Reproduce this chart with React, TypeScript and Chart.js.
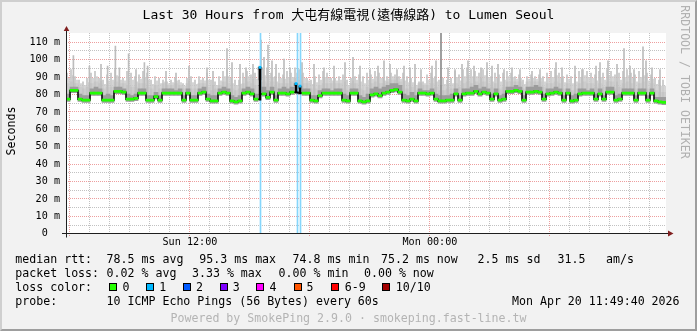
import React, { useEffect, useRef } from 'react';
import { Chart, registerables } from 'chart.js';
Chart.register(...registerables);

// ---- time axis: 30 hours ending Mon 11:49:40, start Sun 05:49:40 ----
const START_TO_FIRST_HOUR = 10 / 60 + 20 / 3600; // 05:49:40 -> 06:00:00
const FIRST_HOUR_OF_DAY = 6; // hours since Sun 00:00 at first full hour
const HOURS = 30;
const BIN_H = 0.2; // 12-minute bins
const xTickLabels: Record<number, string> = { 12: 'Sun 12:00', 24: 'Mon 00:00' };
const yTickValues = [0, 10, 20, 30, 40, 50, 60, 70, 80, 90, 100, 110];
const Y_MAX = 115;

// ---- median rtt per 12-minute bin (ms) ----
const median = [
  77, 82, 82, 77, 76.5, 76.5, 80.5, 80.5, 80.5, 76.5, 76.5, 76.5, 81.5, 81.5, 81, 77, 77, 77.5, 80.5, 80.5, 76.5, 76.5, 78.5, 76.5, 80.5, 80.5, 80.5, 80.5, 80.5, 76.5,
  80.5, 76.5, 76.5, 80.5, 81, 77, 76, 76, 80.5, 81, 80.5, 76, 75.5, 76, 80.5, 81, 80, 77, 95.3, 80, 78, 81, 76.5, 80.5, 80.5, 80, 81, 86, 84.5, 80.5,
  80.5, 76.5, 76, 79, 80.5, 80.5, 80.5, 80.5, 80.5, 76.5, 76, 80.5, 80.5, 76, 75.5, 76, 79.5, 80, 79, 80.5, 81, 82, 82.5, 81, 76.5, 76, 77, 76, 80.5, 80.5,
  80, 80.5, 77, 76, 76, 76.5, 76.5, 80, 76.5, 80, 80.5, 80.5, 81.5, 80, 81, 80.5, 77, 80, 76.5, 77, 81.5, 81.5, 82, 81.5, 76.5, 81, 81, 81.5, 81, 77,
  80, 80.5, 81, 80.5, 76.5, 80.5, 76, 76.5, 80, 80.5, 80.5, 80.5, 77, 80, 77, 81, 81, 76.5, 77, 80.5, 80.5, 80.5, 76.5, 80.5, 80.5, 76.5, 80.5, 76, 75.5, 75.2,
];

// ---- smoke: dense light band top, per-bin max ping, darker inner smoke top ----
const bandTop = [
  86, 87, 86, 84, 83, 84, 86, 87, 86, 83, 84, 84, 87, 86, 86, 85, 84, 84, 86, 86, 84, 83, 85, 83, 86, 85, 85, 86, 85, 83,
  86, 83, 83, 86, 86, 84, 82, 83, 85, 87, 86, 83, 82, 83, 86, 87, 86, 85, 88, 87, 86, 87, 84, 86, 86, 86, 87, 89, 88, 86,
  86, 83, 83, 85, 86, 86, 86, 86, 86, 83, 82, 86, 86, 83, 82, 84, 86, 87, 86, 86, 87, 88, 88, 87, 83, 83, 84, 82, 86, 85,
  85, 86, 84, 82, 82, 83, 83, 86, 84, 86, 87, 86, 87, 86, 87, 86, 84, 86, 83, 84, 87, 87, 87, 87, 83, 87, 87, 87, 87, 84,
  86, 86, 87, 86, 83, 86, 82, 83, 86, 87, 86, 86, 84, 86, 84, 87, 87, 83, 84, 86, 87, 86, 83, 86, 87, 83, 86, 82, 81, 81,
];
const maxPing = [
  92, 94, 90, 88, 87, 89, 92, 93, 89, 88, 91, 92, 94, 90, 89, 93, 92, 90, 91, 93, 92, 88, 90, 89, 88, 87, 88, 89, 88, 86,
  89, 90, 88, 90, 89, 92, 88, 87, 90, 93, 94, 89, 88, 88, 92, 93, 91, 92, 96, 94, 95, 92, 90, 92, 91, 93, 92, 95, 94, 92,
  89, 88, 90, 91, 93, 92, 89, 89, 90, 91, 88, 89, 90, 91, 90, 92, 91, 93, 92, 89, 90, 92, 91, 90, 92, 90, 89, 88, 87, 87,
  91, 92, 90, 88, 89, 88, 89, 93, 91, 94, 95, 94, 93, 92, 94, 93, 90, 92, 91, 92, 93, 92, 90, 91, 88, 90, 91, 90, 91, 90,
  92, 93, 94, 92, 90, 91, 90, 91, 93, 94, 93, 92, 91, 93, 92, 94, 93, 91, 92, 93, 94, 92, 91, 93, 94, 92, 91, 89, 88, 88,
];
const darkTop = [
  80, 84, 84, 80, 79, 79, 83, 84, 83, 79, 80, 79, 84, 84, 83, 80, 79, 80, 83, 83, 79, 79, 81, 79, 83, 83, 83, 82, 83, 79,
  83, 79, 79, 83, 84, 80, 79, 79, 83, 84, 83, 79, 78, 79, 83, 84, 83, 80, 84, 84, 82, 84, 79, 83, 84, 83, 84, 86, 85, 83,
  83, 79, 79, 82, 83, 83, 82, 83, 83, 80, 79, 83, 83, 79, 78, 80, 83, 84, 83, 84, 85, 86, 86, 85, 80, 79, 81, 79, 83, 82,
  82, 83, 80, 79, 79, 79, 80, 83, 79, 83, 83, 84, 85, 83, 84, 83, 80, 83, 79, 80, 84, 84, 85, 84, 79, 84, 84, 85, 84, 80,
  83, 83, 84, 83, 79, 83, 79, 80, 83, 83, 82, 83, 80, 83, 79, 84, 84, 79, 80, 83, 83, 83, 79, 83, 83, 79, 83, 78, 78, 78,
];

// ---- individual tall smoke spikes (hours after start, ms) ----
const spikeTimes = [
  0.37, 1.17, 1.75, 2.08, 2.47, 2.67, 3.13, 3.5, 3.92, 4.08, 5.0, 5.5,
  6.15, 7.05, 7.35, 8.05, 8.3, 8.7, 9.0, 9.35, 9.75, 9.9, 10.1, 10.3, 10.5, 10.9, 11.2, 11.8,
  12.4, 12.9, 13.4, 13.95, 14.35, 14.7, 15.2, 15.6, 15.9, 16.2, 16.55, 16.9, 17.2, 17.45, 17.75,
  18.3, 18.5, 19.1, 19.45, 19.8, 20.1, 20.4, 20.75, 21.05, 21.3, 21.6, 21.9, 22.3, 22.7, 23.3, 23.7,
  24.5, 24.8, 25.45, 25.8, 26.5, 26.7, 27.1, 27.55, 27.9, 28.2, 28.4, 28.85, 29.0, 29.3, 29.7,
];
const spikeValues = [
  102, 96, 97, 96, 107.5, 95, 103, 94, 98, 96, 93, 92,
  96, 95, 93, 106, 98, 97, 95, 97, 111, 101, 108, 99, 97, 100, 95, 98,
  97, 95, 96, 98, 101, 96, 94, 96, 99, 97, 94, 96, 95, 97, 94,
  96, 99, 95, 94, 97, 99, 96, 95, 98, 96, 97, 94, 95, 94, 93, 94,
  98, 95, 96, 94, 96, 98, 99, 97, 106, 96, 94, 107, 99, 95, 94,
];
const darkSpikeTimes = [18.75];
const darkSpikeValues = [115];

// ---- packet loss events ----
const lossTimes = [9.725, 11.575, 11.725];
const lossBins = [48, 57, 58];

// ---- legend ----
const lossColors = ['#26ff00', '#00b8ff', '#0059ff', '#7e00ff', '#ff00ff', '#ff5500', '#ff0000', '#a10000'];
const lossLabels = ['0', '1', '2', '3', '4', '5', '6-9', '10/10'];
const lossSwatchX = [108.5, 145.5, 182.5, 219.5, 256, 293.5, 331, 382];
const lossLabelX = [122.5, 159.3, 196, 232.8, 269.5, 306.5, 344.8, 395.8];
const rttRow: [number, string][] = [
  [15.3, 'median rtt:'], [106.6, '78.5 ms avg'], [199.3, '95.3 ms max'], [292.6, '74.8 ms min'],
  [381, '75.2 ms now'], [477.6, '2.5 ms sd'], [557.6, '31.5'], [606, 'am/s'],
];
const lossRow: [number, string][] = [
  [15.3, 'packet loss:'], [106.6, '0.02 % avg'], [192, '3.33 % max'], [278.6, '0.00 % min'], [364, '0.00 % now'],
];
const probeRow: [number, string][] = [
  [15.3, 'probe:'], [106.6, '10 ICMP Echo Pings (56 Bytes) every 60s'], [512, 'Mon Apr 20 11:49:40 2026'],
];

const FONT = '"DejaVu Sans Mono", "Noto Sans CJK TC", monospace';

const binT = (i: number) => BIN_H / 2 + BIN_H * i;
const hourTicks = Array.from({ length: HOURS }, (_, k) => START_TO_FIRST_HOUR + k);

const rrdPlugin = {
  id: 'rrd',
  beforeDraw(chart: any) {
    const { ctx, chartArea: a } = chart;
    ctx.save();
    ctx.fillStyle = '#ffffff';
    ctx.fillRect(a.left, a.top, a.right - a.left, a.bottom - a.top);
    ctx.restore();
  },
  beforeDatasetsDraw(chart: any) {
    const { ctx, chartArea: a } = chart;
    const xs = chart.scales.x, ys = chart.scales.y;
    ctx.save();
    ctx.lineWidth = 1;
    ctx.setLineDash([1, 1]);
    const minor = 'rgba(143,143,143,0.55)';
    const major = 'rgba(222,79,79,0.55)';
    for (let v = 5; v < Y_MAX; v += 5) {
      const py = Math.round(ys.getPixelForValue(v)) + 0.5;
      ctx.strokeStyle = v % 10 === 0 ? major : minor;
      ctx.beginPath();
      ctx.moveTo(a.left, py);
      ctx.lineTo(a.right, py);
      ctx.stroke();
    }
    hourTicks.forEach((t, k) => {
      const hour = FIRST_HOUR_OF_DAY + k;
      const isMajor = hour % 6 === 0;
      const px = Math.floor(xs.getPixelForValue(t)) + 0.5;
      ctx.strokeStyle = isMajor ? major : minor;
      ctx.beginPath();
      ctx.moveTo(px, a.top);
      ctx.lineTo(px, a.bottom + (isMajor ? 3 : 0));
      ctx.stroke();
    });
    ctx.restore();
  },
  afterDatasetsDraw(chart: any) {
    const { ctx, chartArea: a } = chart;
    const xs = chart.scales.x, ys = chart.scales.y;
    ctx.save();
    ctx.setLineDash([]);
    ctx.strokeStyle = '#1f1f1f';
    ctx.lineWidth = 1;
    const ax = Math.floor(a.left) + 0.5;
    const ay = Math.floor(a.bottom) + 0.5;
    ctx.beginPath();
    ctx.moveTo(62, ay);
    ctx.lineTo(a.right + 2, ay);
    ctx.moveTo(ax, ay + 4);
    ctx.lineTo(ax, a.top - 2);
    ctx.stroke();
    ctx.fillStyle = '#801f1f';
    ctx.beginPath();
    ctx.moveTo(a.right + 2, ay - 3);
    ctx.lineTo(a.right + 7.5, ay);
    ctx.lineTo(a.right + 2, ay + 3);
    ctx.closePath();
    ctx.fill();
    ctx.beginPath();
    ctx.moveTo(ax - 2.8, a.top - 2);
    ctx.lineTo(ax, a.top - 7);
    ctx.lineTo(ax + 2.8, a.top - 2);
    ctx.closePath();
    ctx.fill();
    ctx.fillStyle = '#000';
    ctx.font = `10.15px ${FONT}`;
    ctx.textBaseline = 'middle';
    ctx.textAlign = 'right';
    yTickValues.forEach((v) => {
      ctx.fillText(v === 0 ? '0  ' : `${v} m`, 60, ys.getPixelForValue(v) + 0.5);
    });
    ctx.textAlign = 'center';
    hourTicks.forEach((t, k) => {
      const lbl = xTickLabels[FIRST_HOUR_OF_DAY + k];
      if (lbl) ctx.fillText(lbl, xs.getPixelForValue(t) + 0.5, 242.8);
    });
    ctx.restore();
  },
};

function ChartCanvas() {
  const ref = useRef<HTMLCanvasElement | null>(null);
  useEffect(() => {
    if (!ref.current) return;
    const medianAt = (t: number) => median[Math.min(median.length - 1, Math.floor(t / BIN_H))];
    const isLoss = (i: number) => lossBins.includes(i);
    const datasets: any[] = [
      {
        type: 'bar', order: 10, grouped: false, barThickness: 4,
        backgroundColor: '#c8c8c8',
        data: median.map((m, i) => ({ x: binT(i), y: [m - 1, bandTop[i]] })),
      },
      {
        type: 'bar', order: 9, grouped: false, barThickness: 1,
        backgroundColor: '#c4c4c4',
        data: median.map((m, i) => ({ x: binT(i) - 0.05, y: [m, maxPing[i]] })),
      },
      {
        type: 'bar', order: 9, grouped: false, barThickness: 1,
        backgroundColor: '#cdcdcd',
        data: median.map((m, i) => ({ x: binT(i) + 0.05, y: [m, (maxPing[i] + bandTop[i]) / 2] })),
      },
      {
        type: 'bar', order: 8, grouped: false, barThickness: 1,
        backgroundColor: '#bdbdbd',
        data: spikeTimes.map((t, i) => ({ x: t, y: [medianAt(t), spikeValues[i]] })),
      },
      {
        type: 'bar', order: 7, grouped: false, barThickness: 4,
        backgroundColor: '#9c9c9c',
        data: median.map((m, i) => ({ x: binT(i), y: [m - 1.3, isLoss(i) ? m : darkTop[i]] })),
      },
      {
        type: 'bar', order: 6, grouped: false, barThickness: 1,
        backgroundColor: '#8c8c8c',
        data: darkSpikeTimes.map((t, i) => ({ x: t, y: [medianAt(t), darkSpikeValues[i]] })),
      },
      {
        type: 'bar', order: 5, grouped: false, barThickness: 1,
        backgroundColor: '#86d6fb',
        data: lossTimes.map((t) => ({ x: t, y: [0, Y_MAX] })),
      },
      {
        type: 'line', order: 4, stepped: 'middle', spanGaps: true,
        borderColor: '#000000', borderWidth: 1.5, pointRadius: 0, fill: false,
        data: median.map((m, i) => ({ x: binT(i), y: isLoss(i) ? null : m })),
      },
      {
        type: 'bar', order: 4, grouped: false, barThickness: 2,
        backgroundColor: '#000000',
        data: lossBins.map((i) => ({ x: binT(i), y: [Math.min(median[i - 1], median[i + 1]) - 0.5, median[i]] })),
      },
      {
        type: 'bar', order: 3, grouped: false, barThickness: 4,
        backgroundColor: '#20ff00',
        data: median.map((m, i) => ({ x: binT(i), y: isLoss(i) ? null : [m - 0.6, m + 0.6] })),
      },
      {
        type: 'bar', order: 3, grouped: false, barThickness: 2,
        backgroundColor: lossColors[1],
        data: lossBins.map((i) => ({ x: binT(i), y: [median[i] - 0.6, median[i] + 0.6] })),
      },
    ];
    const chart = new Chart(ref.current, {
      type: 'bar',
      data: { datasets },
      options: {
        animation: false,
        responsive: false,
        devicePixelRatio: 1,
        events: [],
        layout: { padding: { left: 0, right: 31, top: 33, bottom: 77.7 } },
        plugins: { legend: { display: false }, tooltip: { enabled: false }, title: { display: false } },
        scales: {
          x: {
            type: 'linear', min: 0, max: HOURS, offset: false,
            grid: { display: false, drawTicks: false }, border: { display: false },
            ticks: { display: false },
            afterFit: (s: any) => { s.height = 20; },
          },
          y: {
            type: 'linear', min: 0, max: Y_MAX,
            grid: { display: false, drawTicks: false }, border: { display: false },
            ticks: { display: false },
            afterFit: (s: any) => { s.width = 66; },
          },
        },
      } as any,
      plugins: [rrdPlugin as any],
    });
    return () => chart.destroy();
  }, []);
  return <canvas ref={ref} width={697} height={331} style={{ position: 'absolute', left: 0, top: 0, width: 697, height: 331 }} />;
}

const textStyle = (left: number, top: number, extra: any = {}): React.CSSProperties => ({
  position: 'absolute', left, top, fontFamily: FONT, fontSize: 11.6, lineHeight: '14px',
  whiteSpace: 'pre', color: '#000', ...extra,
});

export default function App() {
  const rowTops = [252.3, 266.3, 280.3, 294];
  return (
    <div style={{
      position: 'absolute', left: 0, top: 0, width: 697, height: 331, boxSizing: 'border-box',
      background: '#f2f2f2', borderTop: '2px solid #cfcfcf', borderLeft: '2px solid #cfcfcf',
      borderRight: '2px solid #9e9e9e', borderBottom: '2px solid #9e9e9e', overflow: 'hidden',
    }}>
      <div style={{ position: 'absolute', left: -2, top: -2, width: 697, height: 331 }}>
        <ChartCanvas />
        <div style={{ position: 'absolute', left: 0, top: 6.7, width: 697, textAlign: 'center', fontFamily: FONT, fontSize: 13, lineHeight: '16px', whiteSpace: 'pre', color: '#000' }}>
          Last 30 Hours from 大屯有線電視(遠傳線路) to Lumen Seoul
        </div>
        <div style={{ position: 'absolute', left: -29, top: 124, width: 80, textAlign: 'center', fontFamily: FONT, fontSize: 11.6, lineHeight: '14px', transform: 'rotate(-90deg)', color: '#000' }}>
          Seconds
        </div>
        <div style={{ position: 'absolute', left: 605, top: 75.5, width: 160, textAlign: 'center', fontFamily: FONT, fontSize: 11.6, lineHeight: '12px', transform: 'rotate(90deg)', color: '#b0b0b0', whiteSpace: 'pre' }}>
          RRDTOOL / TOBI OETIKER
        </div>
        {rttRow.map(([x, t], i) => <div key={'r' + i} style={textStyle(x, rowTops[0])}>{t}</div>)}
        {lossRow.map(([x, t], i) => <div key={'l' + i} style={textStyle(x, rowTops[1])}>{t}</div>)}
        <div style={textStyle(15.3, rowTops[2])}>loss color:</div>
        {lossColors.map((c, i) => (
          <React.Fragment key={'c' + i}>
            <div style={{ position: 'absolute', left: lossSwatchX[i], top: 283.3, width: 6, height: 6, border: '1px solid #000', background: c }} />
            <div style={textStyle(lossLabelX[i], rowTops[2])}>{lossLabels[i]}</div>
          </React.Fragment>
        ))}
        {probeRow.map(([x, t], i) => <div key={'p' + i} style={textStyle(x, rowTops[3])}>{t}</div>)}
        <div style={{ position: 'absolute', left: 0, top: 310.7, width: 697, textAlign: 'center', fontFamily: FONT, fontSize: 11.6, lineHeight: '14px', whiteSpace: 'pre', color: '#b4b4b4' }}>
          Powered by SmokePing 2.9.0 · smokeping.fast-line.tw
        </div>
      </div>
    </div>
  );
}
